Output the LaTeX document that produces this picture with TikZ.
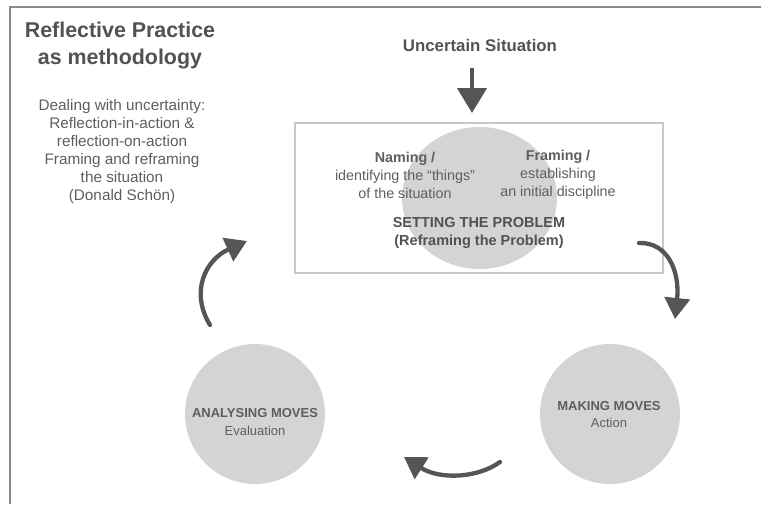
\documentclass[tikz,border=0pt]{standalone}
\usepackage{fontspec}
\setmainfont{Liberation Sans}
\usetikzlibrary{arrows.meta,shapes.geometric}
\definecolor{txtdark}{HTML}{525252}
\definecolor{txtlight}{HTML}{5E5E5E}
\definecolor{arrowc}{HTML}{555555}
\definecolor{discfill}{HTML}{D4D4D4}
\definecolor{boxline}{HTML}{C8C8C8}
\definecolor{framec}{HTML}{8A8A8A}
\tikzset{
  titletext/.style={font=\bfseries\fontsize{21.4}{27}\selectfont, text=txtdark, align=center, inner sep=0pt},
  bodytext/.style={font=\fontsize{14.3}{18}\selectfont, text=txtlight, align=center, inner sep=0pt},
  headtext/.style={font=\bfseries\fontsize{16.8}{20}\selectfont, text=txtdark, align=center, inner sep=0pt},
  disc/.style={circle, fill=discfill, minimum size=140pt, inner sep=0pt},
  topdisc/.style={ellipse, fill=discfill, minimum width=155pt, minimum height=142pt, inner sep=0pt},
  sketcharrow/.style={draw=arrowc, line width=4.3pt, line cap=round, -{Triangle[width=25pt,length=21pt]}},
  framebox/.style={draw=boxline, line width=1.5pt},
}
\begin{document}
\begin{tikzpicture}[x=1pt,y=-1pt]
\useasboundingbox (0,0) rectangle (761,504);
% outer frame (partly outside the picture)
\draw[framec, line width=1.2pt] (10,504) -- (10,7) -- (761,7);

% title and left notes
\node[titletext] (title) at (120,46) {Reflective Practice\\as methodology};
\node[bodytext, font=\fontsize{15.3}{18}\selectfont] (notes) at (122,152) {Dealing with uncertainty:\\Reflection-in-action \&\\reflection-on-action\\Framing and reframing\\the situation\\(Donald Schön)};

% uncertain situation
\node[headtext] (uncertain) at (480,45) {Uncertain Situation};
\coordinate (downstart) at (472,68);
\coordinate (downend) at (472,113);
\draw[draw=arrowc, line width=4.5pt, -{Triangle[width=29pt,length=25pt]}] (downstart) -- (downend);

% setting the problem box
\node[framebox, minimum width=368pt, minimum height=150pt, inner sep=0pt] (box) at (479,198) {};
\node[topdisc] (setdisc) at (479.5,198) {};
\node[bodytext] (naming) at (405,175) {\textbf{Naming /}\\identifying the “things”\\of the situation};
\node[bodytext] (framing) at (558,175) {\textbf{Framing /}\\establishing\\an initial discipline};
\node[bodytext, font=\bfseries\fontsize{14.5}{18}\selectfont, text=txtdark] (setting) at (479,233) {SETTING THE PROBLEM\\(Reframing the Problem)};

% bottom discs
\node[disc] (analysing) at (255,414) {};
\node[bodytext, font=\fontsize{13}{17.5}\selectfont] (analysingtxt) at (255,422) {\textbf{ANALYSING MOVES}\\Evaluation};
\node[disc] (making) at (610,414) {};
\node[bodytext, font=\fontsize{13}{17.5}\selectfont] (makingtxt) at (609,414.5) {\textbf{MAKING MOVES}\\Action};

% cycle arrows
\coordinate (a1s) at (639,243);
\coordinate (a1e) at (675,319);
\draw[sketcharrow] (a1s) .. controls (668,242) and (680,272) .. (a1e);
\coordinate (a2s) at (500,462);
\coordinate (a2e) at (404,457);
\draw[sketcharrow] (a2s) .. controls (478,478) and (440,480) .. (a2e);
\coordinate (a3s) at (210,325);
\coordinate (a3e) at (247,241);
\draw[sketcharrow] (a3s) .. controls (190,292) and (205,260) .. (a3e);
\end{tikzpicture}
\end{document}
